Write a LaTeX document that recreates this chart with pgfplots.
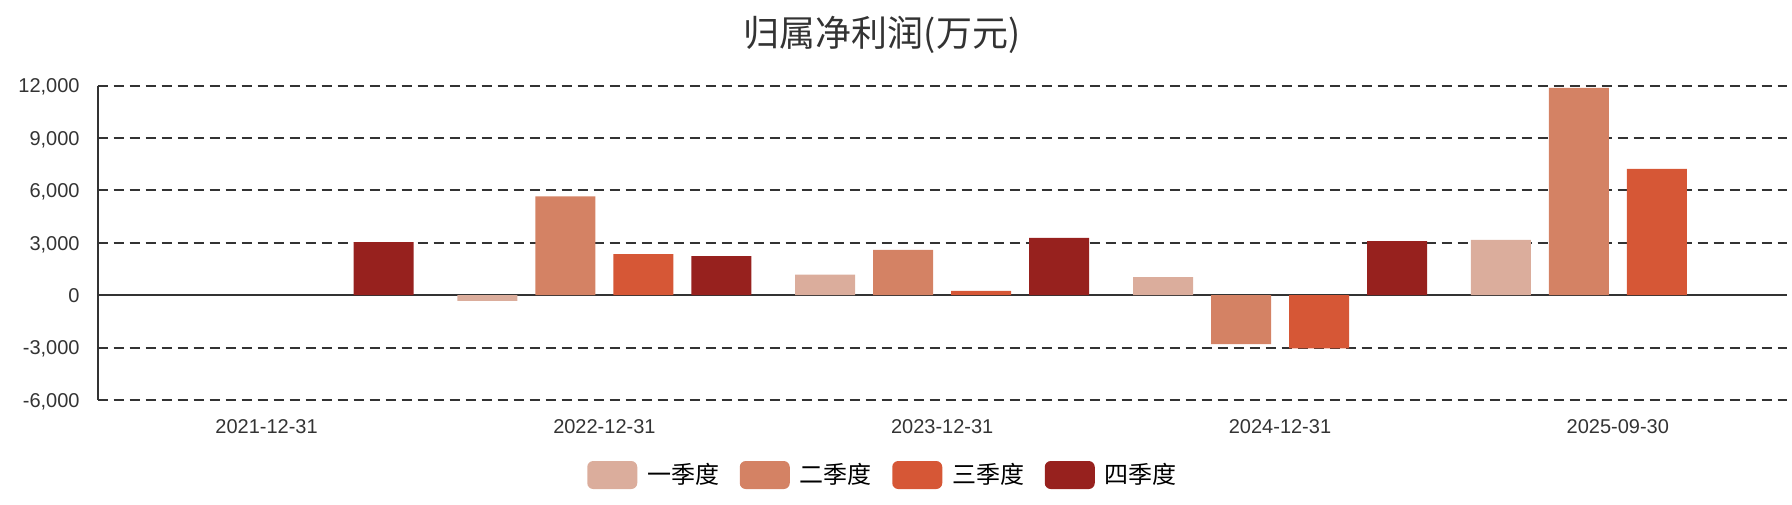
\documentclass[border=0pt]{standalone}
\usepackage{fontspec}
\setmainfont{Liberation Sans}
\newfontfamily\cjk{Noto Sans CJK SC}
\usepackage{pgfplots}
\pgfplotsset{compat=1.18}
\definecolor{qa}{RGB}{219,173,156}
\definecolor{qb}{RGB}{212,130,100}
\definecolor{qc}{RGB}{214,87,54}
\definecolor{qd}{RGB}{151,33,30}
\definecolor{cdark}{RGB}{51,51,51}
\begin{document}
\begin{tikzpicture}
\begin{axis}[
  scale only axis, width=844.5pt, height=157.15pt,
  at={(0,0)}, anchor=south west,
  ybar=9pt, bar width=30pt,
  xmin=-0.5, xmax=4.5, ymin=-6000, ymax=12000,
  xtick={0,1,2,3,4},
  xticklabels={2021-12-31,2022-12-31,2023-12-31,2024-12-31,2025-09-30},
  ytick={-6000,-3000,3000,6000,9000,12000},
  extra y ticks={0},
  extra y tick style={major grid style={draw=cdark, solid, line width=1pt}},
  scaled y ticks=false,
  ymajorgrids=true,
  major grid style={draw=cdark, line width=1pt, dash pattern=on 5pt off 3pt},
  axis x line*=bottom, axis y line*=left,
  x axis line style={draw=none},
  y axis line style={draw=cdark, line width=1pt, -},
  major tick length=0pt,
  tick style={draw=none},
  /pgf/number format/assume math mode=true,
  /pgf/number format/1000 sep={,},
  ticklabel style={text=cdark, font=\fontsize{10}{12}\selectfont},
  yticklabel style={anchor=base east, inner sep=0pt, xshift=-8.85pt, yshift=-3.6pt},
  xticklabel style={anchor=base, inner sep=0pt, yshift=-16.5pt},
  legend columns=4,
  legend style={at={(0.46436,-0.23863)}, anchor=center, draw=none, fill=none,
    font=\cjk\fontsize{12}{14}\selectfont, text=black,
    /tikz/every odd column/.style={column sep=5pt},
    /tikz/every even column/.style={column sep=10.25pt},
    nodes={inner sep=0pt}},
  legend image code/.code={\fill[#1, draw=none, rounded corners=3pt] (0pt,-7pt) rectangle (25pt,7pt);},
]
\addplot[fill=qa, draw=none] coordinates {(1,-320) (2,1174) (3,1042) (4,3177)};
\addplot[fill=qb, draw=none] coordinates {(1,5656) (2,2605) (3,-2794) (4,11879)};
\addplot[fill=qc, draw=none] coordinates {(1,2359) (2,250) (3,-3046) (4,7242)};
\addplot[fill=qd, draw=none] coordinates {(0,3046) (1,2244) (2,3292) (3,3103)};
\legend{一季度,二季度,三季度,四季度}
\end{axis}
\node[anchor=base, font=\cjk\fontsize{18}{22}\selectfont, text=cdark] at (392.15pt,176.6pt) {归属净利润(万元)};
\path[use as bounding box] (-48.85pt,-52pt) rectangle (847.15pt,200pt);
\end{tikzpicture}
\end{document}
